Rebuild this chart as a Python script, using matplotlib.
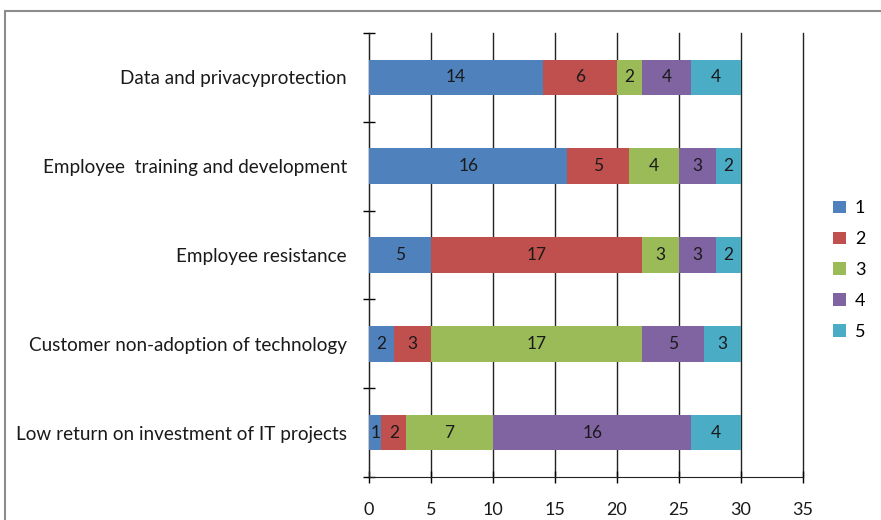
import numpy as np
import matplotlib.pyplot as plt
from matplotlib.patches import Rectangle

plt.rcParams['font.family'] = ['Lato', 'DejaVu Sans']

###########################################
# survey data, bottom category first

categories = [
    "Low return on investment of IT projects",
    "Customer non-adoption of technology",
    "Employee resistance",
    "Employee  training and development",
    "Data and privacyprotection",
]
series_names = ["1", "2", "3", "4", "5"]
rank1 = [1, 2, 5, 16, 14]
rank2 = [2, 3, 17, 5, 6]
rank3 = [7, 17, 3, 4, 2]
rank4 = [16, 5, 3, 3, 4]
rank5 = [4, 3, 2, 2, 4]

colors = ["#4F81BD", "#C0504D", "#9BBB59", "#8064A2", "#4BACC6"]

###########################################
fig = plt.figure(figsize=(8.81, 5.2), dpi=100)
ax = fig.add_axes([369 / 881, 1 - 477 / 520, (803 - 369) / 881, (477 - 33) / 520])

# gray frame round the chart area
fig.patches.append(Rectangle((5 / 881, -0.1), 1.2, 1 - 11 / 520 + 0.1,
                             transform=fig.transFigure, fill=False,
                             edgecolor="#8c8c8c", linewidth=1.5))

y = np.arange(len(categories))
left = np.zeros(len(categories))
for name, vals, c in zip(series_names, [rank1, rank2, rank3, rank4, rank5], colors):
    vals = np.array(vals)
    bars = ax.barh(y, vals, left=left, height=0.4, color=c, label=name, zorder=3)
    ax.bar_label(bars, labels=[str(v) for v in vals], label_type="center",
                 fontsize=12.5, color="#1a1a1a")
    left += vals

ax.set_xlim(0, 35)
ax.set_ylim(-0.5, len(categories) - 0.5)
ax.set_xticks(np.arange(0, 36, 5))
ax.set_yticks(y)
ax.set_yticklabels(categories, fontsize=13.6, color="#1a1a1a")
ax.set_yticks(np.arange(-0.5, len(categories), 1), minor=True)
ax.tick_params(axis="y", which="major", length=0, pad=16)
ax.tick_params(axis="y", which="minor", length=8, direction="inout", width=1)
ax.tick_params(axis="x", length=8, direction="inout", width=1, labelsize=13,
               labelcolor="#1a1a1a", pad=14)

ax.grid(axis="x", color="#222222", linewidth=1, zorder=0)
for gl in ax.xaxis.get_gridlines():
    gl.set_clip_on(False)
for side in ["top", "right"]:
    ax.spines[side].set_visible(False)
for side in ["left", "bottom"]:
    ax.spines[side].set_color("#222222")

handles, labels = ax.get_legend_handles_labels()
fig.legend(handles, labels, loc="center left", bbox_to_anchor=(817 / 881, 1 - 270 / 520),
           frameon=False, fontsize=13, handlelength=0.7, handleheight=0.7,
           handletextpad=0.5, labelspacing=0.82)

plt.savefig("out.png", dpi=100)
